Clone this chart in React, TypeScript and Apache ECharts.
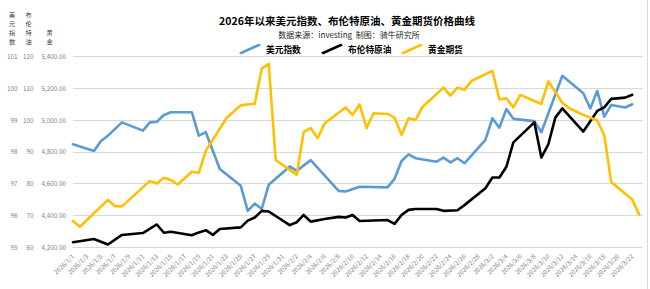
import React, { useEffect, useRef } from "react";
import * as echarts from "echarts";

// x-axis tick labels (every other calendar day)
const xTickLabels = [
  "2026/1/1", "2026/1/3", "2026/1/5", "2026/1/7", "2026/1/9", "2026/1/11", "2026/1/13", "2026/1/15",
  "2026/1/17", "2026/1/19", "2026/1/21", "2026/1/23", "2026/1/25", "2026/1/27", "2026/1/29", "2026/1/31",
  "2026/2/2", "2026/2/4", "2026/2/6", "2026/2/8", "2026/2/10", "2026/2/12", "2026/2/14", "2026/2/16",
  "2026/2/18", "2026/2/20", "2026/2/22", "2026/2/24", "2026/2/26", "2026/2/28", "2026/3/2", "2026/3/4",
  "2026/3/6", "2026/3/8", "2026/3/10", "2026/3/12", "2026/3/14", "2026/3/16", "2026/3/18", "2026/3/20",
  "2026/3/22",
];

// 美元指数
const usdDates = [
  "2026/1/1", "2026/1/4", "2026/1/5", "2026/1/6", "2026/1/8", "2026/1/11", "2026/1/12", "2026/1/13",
  "2026/1/14", "2026/1/15", "2026/1/18", "2026/1/19", "2026/1/20", "2026/1/22", "2026/1/25", "2026/1/26",
  "2026/1/27", "2026/1/28", "2026/1/29", "2026/2/1", "2026/2/2", "2026/2/4", "2026/2/8", "2026/2/9",
  "2026/2/11", "2026/2/15", "2026/2/16", "2026/2/17", "2026/2/18", "2026/2/19", "2026/2/22", "2026/2/23",
  "2026/2/24", "2026/2/25", "2026/2/26", "2026/3/1", "2026/3/2", "2026/3/3", "2026/3/4", "2026/3/5",
  "2026/3/8", "2026/3/9", "2026/3/12", "2026/3/15", "2026/3/16", "2026/3/17", "2026/3/18", "2026/3/19",
  "2026/3/21", "2026/3/22",
];
const usdValues = [
  98.24, 98.03, 98.34, 98.51, 98.93, 98.67, 98.93, 98.95,
  99.16, 99.25, 99.25, 98.51, 98.62, 97.46, 96.93, 96.14,
  96.37, 96.2, 96.96, 97.54, 97.4, 97.74, 96.77, 96.75,
  96.9, 96.88, 97.15, 97.71, 97.92, 97.8, 97.69, 97.82,
  97.67, 97.8, 97.64, 98.38, 99.06, 98.76, 99.35, 99.04,
  98.97, 98.62, 100.4, 99.85, 99.37, 99.92, 99.11, 99.48,
  99.4, 99.5,
];

// 布伦特原油
const oilDates = [
  "2026/1/1", "2026/1/4", "2026/1/6", "2026/1/8", "2026/1/11", "2026/1/13", "2026/1/14", "2026/1/15",
  "2026/1/18", "2026/1/19", "2026/1/20", "2026/1/21", "2026/1/22", "2026/1/25", "2026/1/26", "2026/1/27",
  "2026/1/28", "2026/1/29", "2026/2/1", "2026/2/2", "2026/2/3", "2026/2/4", "2026/2/6", "2026/2/8",
  "2026/2/9", "2026/2/10", "2026/2/11", "2026/2/15", "2026/2/16", "2026/2/17", "2026/2/18", "2026/2/19",
  "2026/2/22", "2026/2/23", "2026/2/25", "2026/2/26", "2026/3/1", "2026/3/2", "2026/3/3", "2026/3/4",
  "2026/3/5", "2026/3/8", "2026/3/9", "2026/3/10", "2026/3/11", "2026/3/12", "2026/3/15", "2026/3/17",
  "2026/3/18", "2026/3/19", "2026/3/21", "2026/3/22",
];
const oilValues = [
  61.5, 62.5, 60.8, 63.8, 64.4, 67.1, 64.5, 64.8,
  63.7, 64.6, 65.3, 63.8, 65.7, 66.2, 68.3, 69.3,
  71.4, 71.2, 66.9, 67.8, 70.1, 68.0, 68.8, 69.5,
  69.3, 70.1, 68.2, 68.5, 67.3, 70.1, 71.7, 72.0,
  72.0, 71.4, 71.6, 73.2, 78.5, 81.9, 81.9, 85.3,
  93.0, 99.3, 88.2, 92.4, 100.8, 103.7, 96.4, 102.9,
  104.0, 106.7, 107.1, 108.0,
];

// 黄金期货
const goldDates = [
  "2026/1/1", "2026/1/2", "2026/1/6", "2026/1/7", "2026/1/8", "2026/1/12", "2026/1/13", "2026/1/14",
  "2026/1/15", "2026/1/16", "2026/1/18", "2026/1/19", "2026/1/20", "2026/1/23", "2026/1/25", "2026/1/27",
  "2026/1/28", "2026/1/29", "2026/1/30", "2026/2/2", "2026/2/3", "2026/2/4", "2026/2/5", "2026/2/6",
  "2026/2/9", "2026/2/10", "2026/2/11", "2026/2/12", "2026/2/13", "2026/2/15", "2026/2/16", "2026/2/17",
  "2026/2/18", "2026/2/19", "2026/2/20", "2026/2/23", "2026/2/24", "2026/2/25", "2026/2/26", "2026/2/27",
  "2026/3/2", "2026/3/3", "2026/3/4", "2026/3/5", "2026/3/6", "2026/3/9", "2026/3/10", "2026/3/12",
  "2026/3/13", "2026/3/15", "2026/3/17", "2026/3/18", "2026/3/19", "2026/3/22", "2026/3/23",
];
const goldValues = [
  4364, 4328, 4497, 4457, 4456, 4617, 4600, 4637,
  4623, 4594, 4675, 4668, 4807, 5015, 5094, 5104,
  5325, 5355, 4749, 4655, 4925, 4950, 4886, 4980,
  5080, 5032, 5100, 4950, 5043, 5039, 5016, 4907,
  5012, 5001, 5083, 5205, 5155, 5205, 5191, 5247,
  5311, 5130, 5138, 5080, 5159, 5102, 5245, 5110,
  5075, 5033, 4998, 4905, 4610, 4499, 4404,
];

// axis titles (written vertically, one character per line)
const axisTitles = ["美元指数", "布伦特油", "黄金"];

const FONT = '"Noto Sans CJK SC", "Noto Sans", sans-serif';

const dayIndex = (s: string) => {
  const [y, m, d] = s.split("/").map(Number);
  return Math.round((Date.UTC(y, m - 1, d) - Date.UTC(2026, 0, 1)) / 86400000);
};
const toPairs = (dates: string[], vals: number[]) => dates.map((d, i) => [dayIndex(d), vals[i]]);

const legendIcon = "path://M0,9 L20,0 L22,2 L2,11 Z";

export default function App() {
  const ref = useRef<HTMLDivElement>(null);
  useEffect(() => {
    if (!ref.current) return;
    const chart = echarts.init(ref.current, null, { renderer: "svg" });
    const axisLabel = { fontSize: 6.3, color: "#7f7f7f", margin: 7, fontFamily: FONT };
    const mkLegend = (name: string, left: number) => ({
      data: [{ name, icon: legendIcon }],
      left,
      top: 43.5,
      itemWidth: 22,
      itemHeight: 11,
      itemGap: 0,
      padding: 0,
      selectedMode: false,
      itemStyle: { borderWidth: 0 },
      textStyle: { fontSize: 8.7, fontWeight: "bold", color: "#000", fontFamily: FONT },
    });
    const mkText = (text: string, x: number, y: number, size: number, weight: string, color: string) => ({
      type: "text",
      x,
      y,
      silent: true,
      style: {
        text,
        fill: color,
        fontSize: size,
        fontWeight: weight,
        fontFamily: FONT,
        textAlign: "center",
        align: "center",
        textVerticalAlign: "middle",
        verticalAlign: "middle",
      },
    });
    // vertical axis titles: one text element per character, stacked upwards from y = 41.5
    const titleX = [12, 28.5, 49.5];
    const step = 9.1;
    const vertical: any[] = [];
    axisTitles.forEach((t, k) => {
      const chars = Array.from(t);
      chars.forEach((c, j) => {
        const y = 41.5 - (chars.length - 1 - j) * step;
        vertical.push(mkText(c, titleX[k], y, 6.2, "normal", "#404040"));
      });
    });
    chart.setOption({
      animation: false,
      backgroundColor: "#ffffff",
      textStyle: { fontFamily: FONT },
      grid: { left: 73, right: 7.3, top: 56.7, bottom: 42, containLabel: false },
      legend: [mkLegend("美元指数", 239), mkLegend("布伦特原油", 321), mkLegend("黄金期货", 401)],
      xAxis: {
        type: "value",
        min: 0,
        max: 81.5,
        interval: 2,
        axisLine: { show: true, lineStyle: { color: "#d9d9d9", width: 1 } },
        axisTick: { show: false },
        splitLine: { show: false },
        axisLabel: {
          rotate: 45,
          fontSize: 6.3,
          color: "#7f7f7f",
          margin: 8,
          fontFamily: FONT,
          showMaxLabel: false,
          formatter: (v: number) => {
            const i = v / 2;
            return Number.isInteger(i) && xTickLabels[i] ? xTickLabels[i] : "";
          },
        },
      },
      yAxis: [
        {
          type: "value", position: "left", offset: 48.5, min: 95, max: 101, interval: 1,
          axisLine: { show: false }, axisTick: { show: false }, axisLabel,
          splitLine: { show: true, lineStyle: { color: "#d9d9d9", width: 1 } },
        },
        {
          type: "value", position: "left", offset: 32.5, min: 60, max: 120, interval: 10,
          axisLine: { show: false }, axisTick: { show: false }, axisLabel, splitLine: { show: false },
        },
        {
          type: "value", position: "left", offset: 0, min: 4200, max: 5400, interval: 200,
          axisLine: { show: false }, axisTick: { show: false }, splitLine: { show: false },
          axisLabel: {
            ...axisLabel,
            formatter: (v: number) => v.toLocaleString("en-US", { minimumFractionDigits: 2, maximumFractionDigits: 2 }),
          },
        },
      ],
      series: [
        {
          type: "line", name: "美元指数", yAxisIndex: 0, data: toPairs(usdDates, usdValues),
          symbol: "none", showSymbol: false,
          lineStyle: { color: "#5B9BD5", width: 2.6, cap: "round", join: "round" },
          itemStyle: { color: "#5B9BD5" },
        },
        {
          type: "line", name: "布伦特原油", yAxisIndex: 1, data: toPairs(oilDates, oilValues),
          symbol: "none", showSymbol: false,
          lineStyle: { color: "#000000", width: 2.6, cap: "round", join: "round" },
          itemStyle: { color: "#000000" },
        },
        {
          type: "line", name: "黄金期货", yAxisIndex: 2, data: toPairs(goldDates, goldValues),
          symbol: "none", showSymbol: false,
          lineStyle: { color: "#FFC000", width: 2.6, cap: "round", join: "round" },
          itemStyle: { color: "#FFC000" },
        },
      ],
      graphic: [
        mkText("2026年以来美元指数、布伦特原油、黄金期货价格曲线", 347, 20.5, 10.5, "bold", "#000000"),
        mkText("数据来源：investing  制图：骑牛研究所", 349, 34, 8, "normal", "#262626"),
        ...vertical,
        {
          type: "line",
          silent: true,
          shape: { x1: 647.5, y1: 0, x2: 647.5, y2: 289 },
          style: { stroke: "#d9d9d9", lineWidth: 1 },
        },
      ],
    });
    return () => chart.dispose();
  }, []);
  return (
    <div
      ref={ref}
      style={{ position: "fixed", left: 0, top: 0, width: 650, height: 289, background: "#fff" }}
    />
  );
}
